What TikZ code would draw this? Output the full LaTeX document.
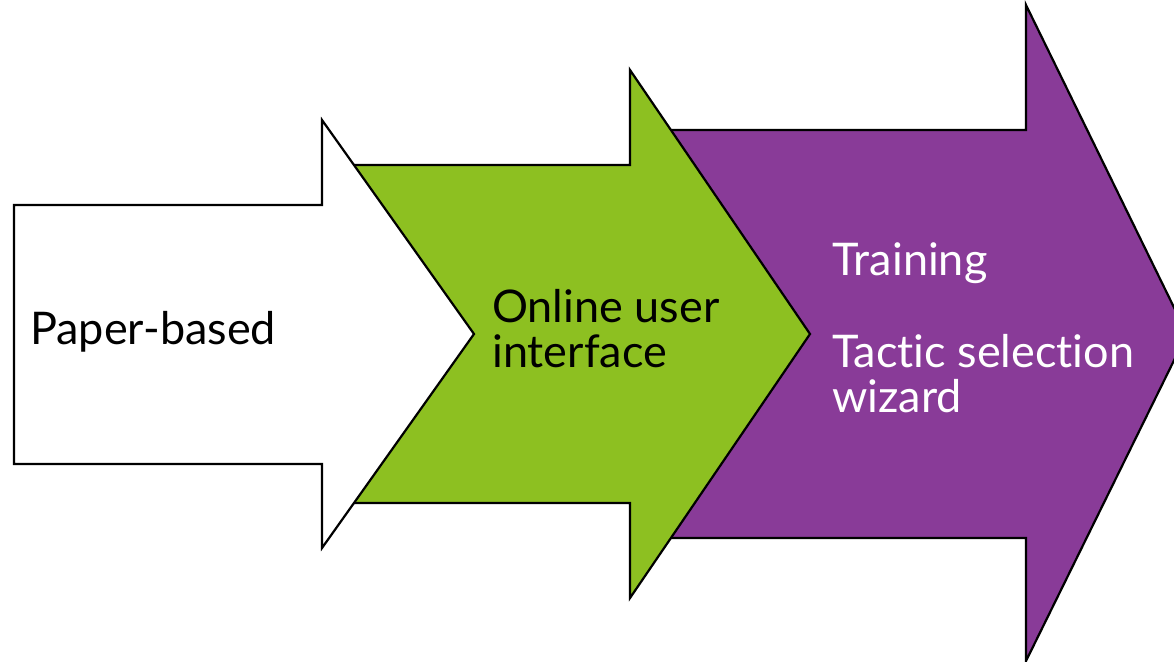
\documentclass[tikz,border=0pt]{standalone}
\usepackage{fontspec}
\setmainfont{Lato}[Ligatures=NoCommon]
\definecolor{arrgreen}{RGB}{141,192,33}
\definecolor{arrpurple}{RGB}{137,59,152}
\begin{document}
\begin{tikzpicture}[x=1pt,y=-1pt,
  arrowshape/.style={draw=black,line width=2.2pt,line join=miter},
  lbl/.style={anchor=base west,inner sep=0pt,align=left,font=\fontsize{45}{45}\selectfont}]
\useasboundingbox (0,0) rectangle (1174,661);
% purple
\draw[arrowshape,fill=arrpurple] (640,130) -- (1026,130) -- (1026,5) -- (1187,334) -- (1026,661) -- (1026,538) -- (640,538) -- cycle;
% green
\draw[arrowshape,fill=arrgreen] (340,165) -- (630,165) -- (630,70) -- (810,334) -- (630,598) -- (630,503) -- (340,503) -- cycle;
% white
\draw[arrowshape,fill=white] (14,205) -- (322,205) -- (322,120) -- (474,334) -- (322,548) -- (322,464) -- (14,464) -- cycle;
\node[lbl] (p) at (30,344) {Paper-based};
\node[lbl] (o) at (492,367) {Online user\\interface};
\node[lbl,text=white] (t) at (832,412) {Training\\[47pt]Tactic selection\\wizard};
\end{tikzpicture}
\end{document}
